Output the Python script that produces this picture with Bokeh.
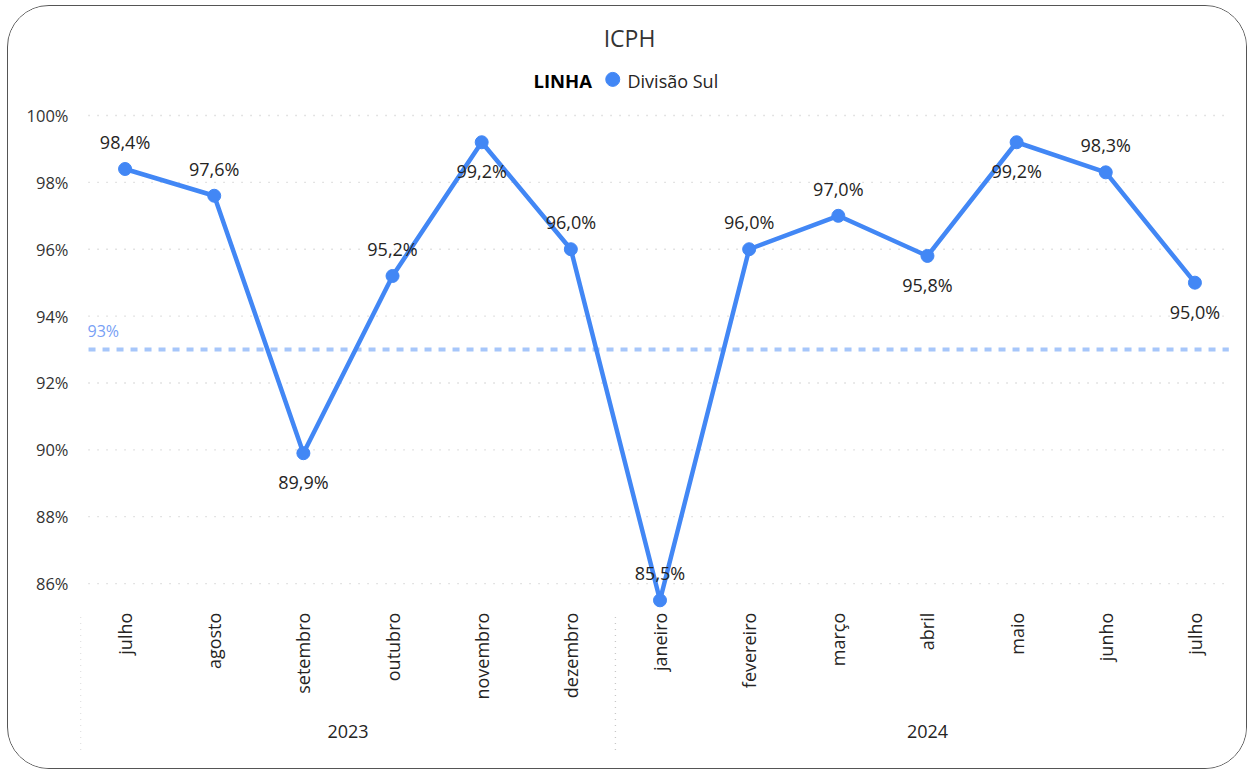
from bokeh.plotting import figure
from bokeh.models import ColumnDataSource, Range1d, FixedTicker, Label, CustomJSTickFormatter
from bokeh.core.properties import value
from bokeh.embed import file_html
from bokeh.resources import INLINE
import math

# ---- data ----
months = ["julho", "agosto", "setembro", "outubro", "novembro", "dezembro",
          "janeiro", "fevereiro", "março", "abril", "maio", "junho", "julho"]
years = ["2023", "2024"]
year_month_counts = [6, 7]
icph = [98.4, 97.6, 89.9, 95.2, 99.2, 96.0, 85.5, 96.0, 97.0, 95.8, 99.2, 98.3, 95.0]
label_side = ["above", "above", "below", "above", "below", "above",
              "above", "above", "above", "below", "below", "above", "below"]
target = 93.0
y_ticks = [86, 88, 90, 92, 94, 96, 98, 100]
series_name = "Divisão Sul"
legend_title = "LINHA"
chart_title = "ICPH"

FONT = "Open Sans"
BLUE = "#4287f5"
TXT = "#252423"

W, H = 1240, 764
p = figure(width=W, height=H, output_backend="svg", toolbar_location=None,
           min_border_left=72, min_border_right=9, min_border_top=0, min_border_bottom=0,
           x_range=Range1d(-0.5, len(months) - 0.5),
           y_range=Range1d(80.41, 103.26))
p.outline_line_color = None
p.background_fill_color = "white"
p.border_fill_color = "white"
p.styles = {"border": "1.5px solid #555555", "border-radius": "42px", "overflow": "hidden",
            "margin-left": "7px", "margin-top": "5px"}

# axes
p.xaxis.visible = False
p.yaxis.ticker = FixedTicker(ticks=y_ticks)
p.yaxis.formatter = CustomJSTickFormatter(code="return tick.toFixed(0) + '%';")
p.yaxis.axis_line_color = None
p.yaxis.major_tick_line_color = None
p.yaxis.minor_tick_line_color = None
p.yaxis.major_label_standoff = 6
p.yaxis.major_label_text_font = FONT
p.yaxis.major_label_text_font_size = "16.5px"
p.yaxis.major_label_text_color = "#333333"
p.xgrid.visible = False
p.ygrid.visible = False

x = list(range(len(months)))
x_lo, x_hi = -0.41, len(months) - 0.62

# gridlines (dotted)
p.segment(x0=[x_lo] * len(y_ticks), y0=y_ticks, x1=[x_hi] * len(y_ticks), y1=y_ticks,
          line_color="#c8c8c8", line_width=1.3, line_dash="1 8")

# target line
p.segment(x0=[x_lo], y0=[target], x1=[x_hi], y1=[target], line_color="#a6c6fa",
          line_width=4, line_dash="7 7")
p.text(x=[x_lo], y=[target], text=[f"{target:.0f}%"], x_offset=-1, y_offset=-19,
       text_baseline="middle", text_align="left", text_font=value(FONT),
       text_font_size="16px", text_color="#789ff5")

# series
src = ColumnDataSource(dict(
    x=x, y=icph,
    lbl=[f"{v:.1f}%".replace(".", ",") for v in icph],
    off=[-27 if s == "above" else 29 for s in label_side],
))
p.line("x", "y", source=src, line_color=BLUE, line_width=4.5)
p.scatter("x", "y", source=src, size=13, fill_color=BLUE, line_color=BLUE)
p.text("x", "y", text="lbl", source=src, y_offset="off", text_align="center",
       text_baseline="middle", text_font=value(FONT), text_font_size="18px",
       text_color=TXT)

# month labels (rotated)
label_y = 85.13
msrc = ColumnDataSource(dict(x=x, y=[label_y] * len(months), t=months))
p.text("x", "y", text="t", source=msrc, angle=math.pi / 2, text_align="right",
       text_baseline="middle", text_font=value(FONT), text_font_size="18px",
       text_color=TXT)

# year groups
sep_x, yc = [], []
start = 0
for n in year_month_counts:
    sep_x.append(start - 0.5)
    yc.append(start + (n - 1) / 2)
    start += n
ysrc = ColumnDataSource(dict(x=yc, y=[81.57] * len(years), t=years))
p.text("x", "y", text="t", source=ysrc, text_align="center", text_baseline="middle",
       text_font=value(FONT), text_font_size="18px", text_color=TXT)
p.segment(x0=sep_x, y0=[85.0] * len(sep_x), x1=sep_x, y1=[80.95] * len(sep_x),
          line_color="#c8c8c8", line_width=1.3, line_dash="1 5")

# title and legend
p.add_layout(Label(x=549, y=H - 31, x_units="screen", y_units="screen",
                   text=chart_title, text_align="center", text_baseline="middle",
                   text_font=FONT, text_font_size="23px", text_color="#333333"))
p.add_layout(Label(x=453, y=H - 74, x_units="screen", y_units="screen",
                   text=legend_title, text_align="left", text_baseline="middle",
                   text_font=FONT, text_font_size="18.5px", text_font_style="bold",
                   text_color="#000000"))
p.scatter(x=[5.47], y=[101.08], size=14, fill_color=BLUE, line_color=BLUE)
p.add_layout(Label(x=547, y=H - 74, x_units="screen", y_units="screen",
                   text=series_name, text_align="left", text_baseline="middle",
                   text_font=FONT, text_font_size="18px", text_color=TXT))

open("out.html", "w").write(file_html(p, INLINE))
